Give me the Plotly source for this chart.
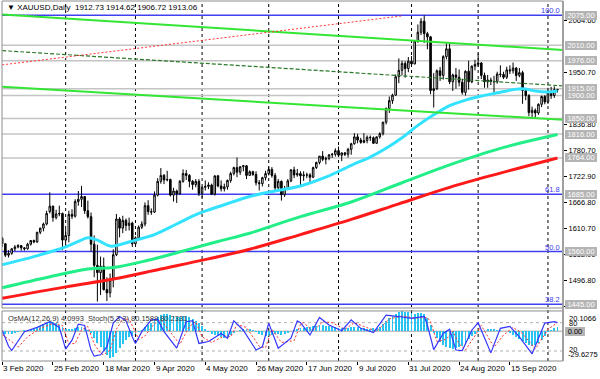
import plotly.graph_objects as go

# ---------------- data ----------------
opens = [1589,1577,1552,1556,1566,1570,1573,1568,1566,1576,
         1584,1581,1602,1611,1620,1647,1659,1634,1642,1643,
         1585,1595,1641,1637,1669,1674,1680,1649,1636,1576,
         1530,1514,1528,1477,1470,1498,1553,1631,1611,1628,
         1617,1622,1577,1590,1613,1620,1660,1647,1646,1683,
         1713,1726,1716,1717,1683,1692,1686,1713,1730,1726,
         1713,1706,1713,1687,1700,1702,1705,1685,1725,1703,
         1697,1701,1715,1730,1743,1733,1745,1747,1726,1734,
         1728,1710,1708,1721,1730,1739,1726,1699,1713,1684,
         1697,1714,1738,1727,1730,1725,1727,1727,1722,1743,
         1754,1768,1761,1763,1771,1772,1780,1770,1775,1772,
         1783,1795,1810,1803,1798,1802,1809,1808,1796,1810,
         1817,1842,1872,1889,1901,1941,1955,1970,1959,1975,
         1969,2019,2038,2062,2035,2028,1911,1915,1954,1944,
         1985,2002,1930,1945,1940,1929,1907,1953,1930,1964,
         1968,1971,1944,1930,1934,1931,1930,1947,1946,1940,
         1956,1954,1960,1944,1950,1911,1900,1863,1868,1862,
         1881,1898,1886,1906,1900,1912.73]
highs = [1592,1578,1563,1567,1574,1576,1574,1570,1579,1585,
         1586,1603,1612,1623,1649,1689,1660,1651,1660,1645,
         1609,1649,1652,1674,1692,1703,1681,1671,1645,1595,
         1575,1549,1547,1504,1512,1565,1642,1635,1638,1632,
         1634,1625,1593,1617,1626,1667,1672,1654,1691,1720,
         1742,1729,1736,1719,1699,1695,1716,1739,1738,1729,
         1716,1718,1718,1702,1715,1711,1708,1726,1727,1715,
         1708,1717,1734,1745,1765,1745,1749,1748,1737,1736,
         1735,1716,1723,1736,1745,1744,1731,1718,1715,1703,
         1718,1740,1745,1740,1735,1735,1732,1731,1745,1756,
         1768,1779,1767,1772,1775,1785,1789,1776,1777,1786,
         1797,1818,1817,1808,1818,1813,1813,1811,1811,1820,
         1843,1874,1898,1904,1946,1981,1976,1975,1984,1986,
         2021,2055,2069,2075,2039,2030,1949,1957,1962,1988,
         2016,2015,1948,1960,1957,1937,1955,1976,1966,1978,
         1992,1973,1950,1945,1939,1943,1952,1966,1952,1963,
         1966,1972,1962,1960,1954,1913,1903,1876,1872,1883,
         1900,1901,1917,1919,1920,1914.62]
lows = [1570,1548,1547,1553,1561,1567,1562,1562,1564,1573,
        1578,1579,1598,1604,1617,1643,1625,1630,1637,1563,
        1575,1580,1631,1634,1660,1657,1642,1632,1560,1504,
        1451,1465,1475,1452,1460,1482,1550,1591,1600,1605,
        1606,1570,1576,1586,1609,1615,1640,1640,1644,1680,
        1708,1707,1713,1680,1669,1666,1684,1710,1716,1700,
        1695,1700,1681,1677,1693,1696,1683,1682,1700,1691,
        1691,1695,1710,1726,1722,1727,1735,1718,1725,1725,
        1704,1693,1702,1715,1726,1721,1693,1696,1671,1679,
        1694,1711,1720,1723,1705,1714,1720,1711,1720,1740,
        1750,1757,1750,1759,1764,1767,1766,1757,1768,1765,
        1771,1793,1796,1795,1796,1796,1801,1795,1795,1806,
        1813,1837,1862,1882,1899,1927,1944,1939,1951,1964,
        1968,2015,2032,2015,2001,1903,1874,1912,1932,1935,
        1979,1925,1910,1915,1920,1902,1900,1913,1927,1955,
        1963,1936,1917,1917,1923,1906,1926,1940,1936,1936,
        1947,1948,1932,1940,1882,1890,1855,1849,1849,1858,
        1875,1881,1882,1893,1895,1906.72]
closes = [1577,1552,1556,1566,1570,1573,1568,1566,1576,1584,
          1581,1602,1611,1620,1643,1659,1634,1642,1643,1585,
          1595,1641,1637,1669,1674,1680,1649,1636,1576,1530,
          1514,1528,1477,1470,1498,1553,1631,1611,1628,1617,
          1622,1577,1590,1613,1620,1660,1647,1646,1683,1713,
          1726,1716,1717,1683,1692,1686,1713,1730,1726,1713,
          1706,1713,1687,1700,1702,1705,1685,1725,1703,1697,
          1701,1715,1730,1743,1733,1745,1747,1726,1734,1728,
          1710,1708,1721,1730,1739,1726,1699,1713,1684,1697,
          1714,1738,1727,1730,1725,1727,1727,1722,1743,1754,
          1768,1761,1763,1771,1772,1780,1770,1775,1772,1783,
          1795,1810,1803,1798,1802,1809,1808,1796,1810,1817,
          1842,1872,1889,1901,1941,1955,1970,1959,1975,1969,
          2019,2038,2062,2035,2028,1911,1915,1954,1944,1985,
          2002,1930,1945,1940,1929,1907,1953,1930,1964,1968,
          1971,1944,1930,1934,1931,1930,1947,1946,1940,1956,
          1954,1960,1944,1950,1911,1900,1863,1868,1862,1881,
          1898,1886,1906,1900,1913,1913.06]
bar_idx = list(range(len(closes)))

# moving averages (bar index, value)
ema_fast_idx = [0,10,15,20,24,27,30,34,37,42,48,55,62,70,78,86,94,102,110,116,121,126,131,136,141,146,151,156,161,164,168,172,175]
ema_fast_val = [1531,1549,1559,1570,1582,1590,1585,1572,1575,1585,1597,1620,1643,1662,1680,1692,1703,1722,1748,1766,1785,1808,1835,1858,1878,1890,1899,1906,1913,1915,1910,1908,1910]
ema_mid_idx = [0,15,27,35,46,58,68,78,94,110,126,141,157,175]
ema_mid_val = [1481,1505,1522,1525,1541,1563,1582,1600,1636,1668,1710,1749,1785,1815]
ema_slow_idx = [0,20,35,50,65,78,94,110,125,141,157,175]
ema_slow_val = [1458,1483,1500,1522,1544,1565,1597,1630,1664,1700,1731,1764]

# trend lines (bar index, price)
upper_trend_idx = [0, 177]
upper_trend_val = [2077, 1999]
mid_trend_idx = [0, 177]
mid_trend_val = [1998, 1921]
lower_trend_idx = [0, 177]
lower_trend_val = [1919, 1847]
red_trend_idx = [0, 126.4]
red_trend_val = [1967, 2074]

# horizontal levels
fibo_levels = [2075, 1685, 1560, 1445]
fibo_labels = ["100.0", "61.8", "50.0", "38.2"]
grey_levels = [2010, 1976, 1915, 1900, 1850, 1816, 1764]
box_levels = [2075, 2010, 1976, 1915, 1900, 1850, 1816, 1764, 1685, 1560, 1445]
price_ticks = [2064.6, 1950.7, 1836.8, 1780.7, 1722.9, 1666.8, 1610.7, 1552.9, 1496.8, 1440.7]

# time axis
date_idx = [0,16,32,48,64,80,96,112,128,144,160]
date_text = ["3 Feb 2020","25 Feb 2020","18 Mar 2020","9 Apr 2020","4 May 2020","26 May 2020",
             "17 Jun 2020","9 Jul 2020","31 Jul 2020","24 Aug 2020","15 Sep 2020"]
month_grid_idx = [20,42,63,84,106,129,150,172]

# OsMA(12,26,9) per bar
osma = [-1.5,-2.5,-3,-2.5,-1.5,-0.5,
        0.5,1,1.5,2,2.5,
        4,5.5,7,8.5,10,9.5,8,
        6,4,2.5,
        2,2.5,3.5,4,4,3,1.5,
        -2,-7,-12,-16,
        -20,-24,-27,-26,-22,-17,
        -13,-9,-6,-5,-3,-1,1,
        4,6,8,11,14,16,17,17,16,15,
        14,14,15,15,14,12,10,8,5,
        2,-1,-3,-4,-5,-6,-7,-6,-4,-2,
        0,1,2,2.5,2,1,-1,
        -3,-4,-5,-5,-4,-3,-3,
        -4,-3,-2,0,1,2,3,
        3.5,4,4.5,5,5.5,6,6,5.5,5,4.5,4,3.5,3,3,3.5,4,4.5,4,3.5,3,2.5,2.5,3,3.5,4.5,
        7,10,13,15,17,19,20,19.5,19,18,17,18,18.5,17,
        13,6,-2,-7,
        -11,-14,-16,-17,-18,-17,-16,-15,-12,-8,
        -5,-3,-1,
        0,1,2,2.5,2,1.5,1,0.5,0,
        -2,-4,-6,-8,-10,-12,-14,-15,-14,-12,-9,-5,
        -1,1.5,3,4.0993]

# Stochastic(5,3,3): main and signal (bar index, value)
stoch_main_idx = [0,2,3,7,11,15,18,20,22,24,26,28,29,31,33,35,37,39,41,42,44,47,49,51,55,58,60,62,65,69,
                  71,73,76,80,82,84,87,91,93,94,97,100,103,107,110,113,117,121,125,129,133,134,136,139,141,
                  143,145,148,150,154,157,160,163,167,171,174,175]
stoch_main_val = [64,30,21,61,70,82,70,24,43,77,74,22,9,12,29,79,93,84,50,36,61,86,87,61,26,82,84,36,40,57,
                  47,84,64,22,29,79,26,47,84,80,54,91,75,63,86,68,59,96,93,89,93,75,23,57,66,
                  22,21,64,80,16,68,72,50,14,79,82,80.1589]
stoch_sig_idx = [0,3,5,8,12,16,19,21,23,25,27,29,31,32,34,36,38,40,42,43,45,48,50,52,56,59,61,63,66,70,
                 72,74,77,81,83,85,88,92,94,95,98,101,104,108,111,114,118,122,126,130,134,135,137,140,142,
                 144,146,149,151,155,158,161,164,168,172,175]
stoch_sig_val = [55,40,28,50,68,78,74,35,36,65,72,35,15,12,22,66,88,87,60,44,52,78,86,68,34,72,82,50,38,52,
                 50,76,70,30,27,66,38,42,76,80,62,82,80,66,80,72,62,88,94,90,91,82,40,45,62,
                 35,22,52,74,28,54,70,57,24,66,80.2331]

assert len(opens) == len(highs) == len(lows) == len(closes) == len(osma) == 176
assert len(stoch_main_idx) == len(stoch_main_val)
assert len(stoch_sig_idx) == len(stoch_sig_val)

# ---------------- styling ----------------
FONT = "Liberation Sans"
MAIN_BOTTOM = 0.1472
OSC_TOP = 0.139
X_RANGE = [-0.06, 176.74]

fig = go.Figure()

fig.add_trace(go.Candlestick(
    x=bar_idx, open=opens, high=highs, low=lows, close=closes,
    increasing=dict(line=dict(color="#000000", width=1), fillcolor="#ffffff"),
    decreasing=dict(line=dict(color="#000000", width=1), fillcolor="#000000"),
    whiskerwidth=0, showlegend=False, xaxis="x", yaxis="y", hoverinfo="skip"))

def line(xs, ys, color, width, dash="solid", xa="x", ya="y", shape="spline"):
    fig.add_trace(go.Scatter(x=xs, y=ys, mode="lines",
                             line=dict(color=color, width=width, dash=dash, shape=shape),
                             showlegend=False, xaxis=xa, yaxis=ya, hoverinfo="skip"))

line(ema_slow_idx, ema_slow_val, "#ff1a1a", 3)
line(ema_mid_idx, ema_mid_val, "#22ee88", 3)
line(ema_fast_idx, ema_fast_val, "#33e2ff", 3)
line(upper_trend_idx, upper_trend_val, "#33e633", 2, shape="linear")
line(lower_trend_idx, lower_trend_val, "#33e633", 2, shape="linear")
line(mid_trend_idx, mid_trend_val, "#2a7a2a", 1.2, dash="4px,2px", shape="linear")
line(red_trend_idx, red_trend_val, "#ff3333", 1, dash="2px,2px", shape="linear")

# oscillator panel
fig.add_trace(go.Bar(x=bar_idx, y=osma, marker=dict(color="#27c3f3", line=dict(width=0)),
                     width=0.6, showlegend=False, xaxis="x2", yaxis="y2", hoverinfo="skip"))
line(stoch_sig_idx, stoch_sig_val, "#ff3030", 1, dash="2px,2px", xa="x2", ya="y3", shape="linear")
line(stoch_main_idx, stoch_main_val, "#3535ff", 1.2, xa="x2", ya="y3", shape="linear")

shapes = []
# vertical month grid lines
for gi in month_grid_idx:
    shapes.append(dict(type="line", xref="x", yref="paper", x0=gi, x1=gi, y0=0, y1=1,
                       line=dict(color="#000000", width=1, dash="3px,3px"), layer="below"))
# horizontal levels
for lv in grey_levels:
    shapes.append(dict(type="line", xref="paper", yref="y", x0=0, x1=1, y0=lv, y1=lv,
                       line=dict(color="#c4c4c4", width=1.5), layer="below"))
for lv in fibo_levels:
    shapes.append(dict(type="line", xref="paper", yref="y", x0=0, x1=1, y0=lv, y1=lv,
                       line=dict(color="#4040f0", width=1.5), layer="below"))
# oscillator levels
for lv in [80, 20]:
    shapes.append(dict(type="line", xref="paper", yref="y3", x0=0, x1=1, y0=lv, y1=lv,
                       line=dict(color="#b0b0b0", width=1, dash="3px,3px"), layer="below"))
shapes.append(dict(type="line", xref="paper", yref="y2", x0=0, x1=1, y0=0, y1=0,
                   line=dict(color="#a0a0a0", width=1), layer="below"))
# panel frames
shapes.append(dict(type="rect", xref="paper", yref="paper", x0=0, x1=1, y0=MAIN_BOTTOM, y1=1,
                   line=dict(color="#8c8c8c", width=1)))
shapes.append(dict(type="rect", xref="paper", yref="paper", x0=0, x1=1, y0=0, y1=OSC_TOP,
                   line=dict(color="#8c8c8c", width=1)))
shapes.append(dict(type="line", xref="paper", yref="paper", x0=1, x1=1, y0=0, y1=1,
                   line=dict(color="#a0a0a0", width=2)))

ann = []
small = dict(family=FONT, size=7.5, color="#000000")
# title
ann.append(dict(text="\u25bc XAUUSD,Daily  1912.73 1914.62 1906.72 1913.06", xref="paper", yref="paper",
                x=0, y=1, xanchor="left", yanchor="top", xshift=3, yshift=0, showarrow=False,
                font=dict(family=FONT, size=8, color="#000000")))
# osc legend
ann.append(dict(text="OsMA(12,26,9) 4.0993  Stoch(5,3,3) 80.1589 80.2331", xref="paper", yref="paper",
                x=0, y=OSC_TOP, xanchor="left", yanchor="top", xshift=4, yshift=-1, showarrow=False,
                font=dict(family=FONT, size=7.5, color="#333333")))
# date labels
for di, dt in zip(date_idx, date_text):
    ann.append(dict(text=dt, xref="x", yref="paper", x=di, y=0, xanchor="left", yanchor="top",
                    xshift=-1, yshift=-1, showarrow=False, font=dict(family=FONT, size=8, color="#000000")))
# fibo labels
for lv, lb in zip(fibo_levels, fibo_labels):
    ann.append(dict(text=lb, xref="paper", yref="y", x=1, y=lv, xanchor="right", yanchor="bottom",
                    xshift=-1, yshift=-2, showarrow=False, font=dict(family=FONT, size=7.5, color="#3a3af0")))
# price boxes
for lv in box_levels:
    ann.append(dict(text=f"{lv:.2f}", xref="paper", yref="y", x=1, y=lv, xanchor="left", yanchor="middle",
                    xshift=2, showarrow=False, bgcolor="#b4b4b4", borderpad=0, borderwidth=0,
                    width=32, height=9, font=dict(family=FONT, size=7.5, color="#ffffff")))
# oscillator scale labels
ann.append(dict(text="20.1066", xref="paper", yref="y2", x=1, y=20.1066, xanchor="left", yanchor="top",
                xshift=4, yshift=-1, showarrow=False, font=small))
ann.append(dict(text="-29.6275", xref="paper", yref="y2", x=1, y=-29.6275, xanchor="left", yanchor="bottom",
                xshift=3, showarrow=False, font=small))
ann.append(dict(text="80", xref="paper", yref="y3", x=1, y=80, xanchor="left", yanchor="middle",
                xshift=4, yshift=-1, showarrow=False, font=small))
ann.append(dict(text="20", xref="paper", yref="y3", x=1, y=20, xanchor="left", yanchor="middle",
                xshift=4, yshift=1, showarrow=False, font=small))
ann.append(dict(text="0.00", xref="paper", yref="y2", x=1, y=0, xanchor="left", yanchor="middle",
                xshift=2, showarrow=False, bgcolor="#b4b4b4", borderpad=0, borderwidth=0,
                width=20, height=9, font=dict(family=FONT, size=7.5, color="#000000")))

fig.update_layout(
    width=600, height=379,
    margin=dict(l=2, r=37, t=1, b=18),
    paper_bgcolor="#ffffff", plot_bgcolor="#ffffff",
    showlegend=False, bargap=0,
    xaxis=dict(domain=[0, 1], anchor="y", range=X_RANGE, showticklabels=False, showgrid=False,
               zeroline=False, rangeslider=dict(visible=False), fixedrange=True),
    xaxis2=dict(domain=[0, 1], anchor="y2", range=X_RANGE, matches="x", showticklabels=False,
                showgrid=False, zeroline=False, tickvals=date_idx, ticks="outside", ticklen=3,
                tickcolor="#000000"),
    yaxis=dict(domain=[MAIN_BOTTOM, 1], anchor="x", side="right", range=[1436.9, 2106.2],
               tickvals=price_ticks, ticktext=[f"{v:.2f}" for v in price_ticks],
               ticks="outside", ticklen=3, tickcolor="#000000", tickfont=small,
               showgrid=False, zeroline=False),
    yaxis2=dict(domain=[0, OSC_TOP], anchor="x2", side="right", range=[-29.6275, 20.1066],
                showticklabels=False, showgrid=False, zeroline=False),
    yaxis3=dict(overlaying="y2", anchor="x2", side="right", range=[-1.2, 104.8], visible=False),
    shapes=shapes, annotations=ann,
)

fig.write_html("out.html", config={"displayModeBar": False, "staticPlot": True},
               post_script="document.body.style.margin='0';document.body.style.overflow='hidden';")
